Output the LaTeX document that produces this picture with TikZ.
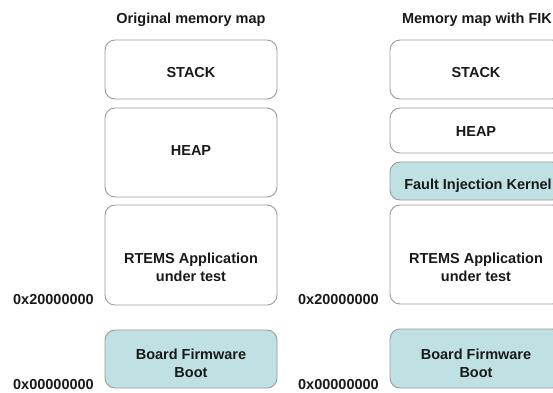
\documentclass[tikz,border=0pt]{standalone}
\usepackage{fontspec}
\setmainfont{Liberation Sans}
\definecolor{boxline}{RGB}{155,155,155}
\definecolor{kernelfill}{RGB}{192,225,228}
\definecolor{txt}{RGB}{25,25,25}
\tikzset{
  region/.style={draw=boxline, line width=0.9pt, rounded corners=10pt, fill=white},
  shaded/.style={region, fill=kernelfill},
  lbl/.style={font=\fontsize{14.5}{18}\selectfont\bfseries, text=txt, align=center, inner sep=0pt},
}
\begin{document}
\begin{tikzpicture}[x=1pt,y=-1pt]
\useasboundingbox (0,0) rectangle (553,392);
\clip (0,0) rectangle (553,392);
\fill[white] (0,0) rectangle (553,392);

% column titles
\node[lbl] (t1) at (191,20) {Original memory map};
\node[lbl] (t2) at (477,20) {Memory map with FIK};

% original memory map
\draw[region] (105,40) rectangle (277,99);
\node[lbl] (s1) at (191,73) {STACK};
\draw[region] (105,108) rectangle (277,197);
\node[lbl] (h1) at (191,151) {HEAP};
\draw[region] (105,205) rectangle (277,305);
\node[lbl] (r1) at (191,267) {RTEMS Application\\under test};
\draw[shaded] (105,330) rectangle (277,388);
\node[lbl] (b1) at (191,363) {Board Firmware\\Boot};

% memory map with the fault injection kernel
\draw[region] (390,40) rectangle (562,99);
\node[lbl] (s2) at (476,73) {STACK};
\draw[region] (390,108) rectangle (562,153);
\node[lbl] (h2) at (476,132) {HEAP};
\draw[shaded] (390,162) rectangle (562,200);
\node[lbl] (k2) at (478,186) {Fault Injection Kernel};
\draw[region] (390,205) rectangle (562,304);
\node[lbl] (r2) at (476,267) {RTEMS Application\\under test};
\draw[shaded] (390,329) rectangle (562,388);
\node[lbl] (b2) at (476,363) {Board Firmware\\Boot};

% addresses
\node[lbl] (a1) at (53.5,299) {0x20000000};
\node[lbl] (a2) at (53.5,384) {0x00000000};
\node[lbl] (a3) at (338.5,299) {0x20000000};
\node[lbl] (a4) at (338.5,384) {0x00000000};
\end{tikzpicture}
\end{document}
